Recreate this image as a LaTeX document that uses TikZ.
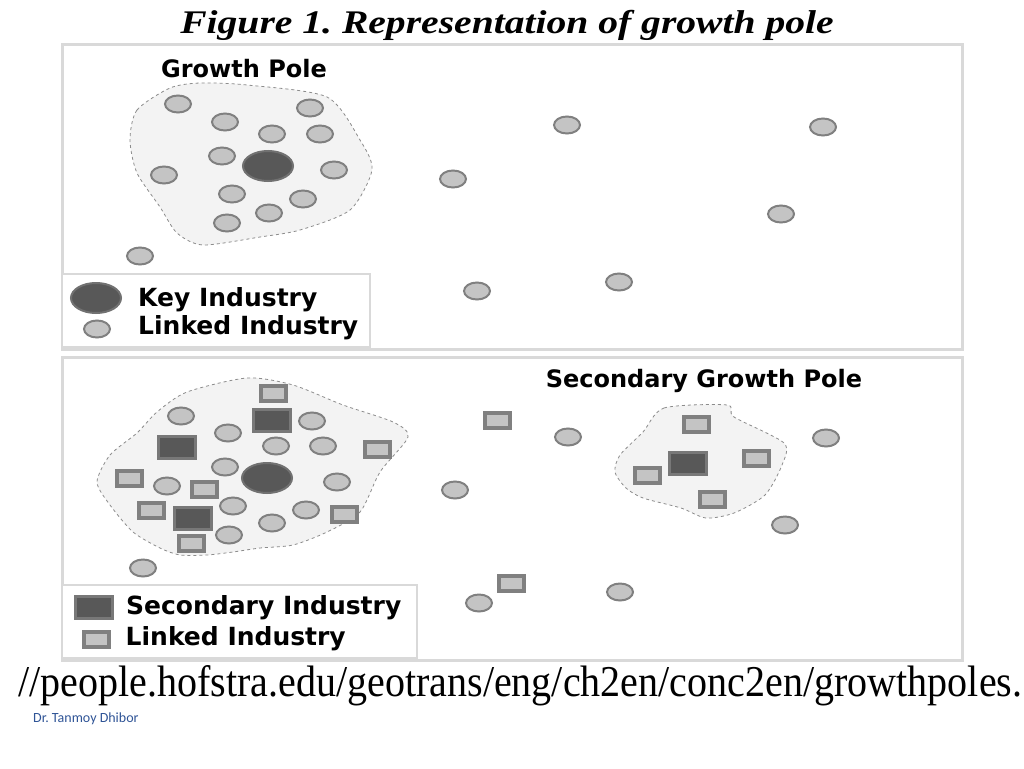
\documentclass[tikz,border=0pt]{standalone}
\usepackage{fontspec}
\setmainfont{Liberation Serif}
\newfontfamily\labelfont{DejaVu Sans}
\newfontfamily\authorfont{Carlito}
\usepackage{xcolor}
\usepackage{tikz}
\usetikzlibrary{shapes.geometric, positioning}
\definecolor{panelgray}{RGB}{217, 217, 217}
\definecolor{blobgray}{RGB}{243, 243, 243}
\definecolor{dashgray}{RGB}{140, 140, 140}
\definecolor{linkfill}{RGB}{196, 196, 196}
\definecolor{linkline}{RGB}{128, 128, 128}
\definecolor{keyfill}{RGB}{88, 88, 88}
\definecolor{secline}{RGB}{120, 120, 120}
\definecolor{authorblue}{RGB}{47, 84, 150}
\frenchspacing

\begin{document}
\begin{tikzpicture}[x=1pt, y=-1pt,
    panel/.style={draw=panelgray, line width=3pt, fill=white},
    legbox/.style={draw=panelgray, line width=2pt, fill=white},
    pole/.style={draw=dashgray, dashed, fill=blobgray, line width=0.8pt},
    linked/.style={ellipse, draw=linkline, fill=linkfill, line width=2pt, 
                   minimum width=26pt, minimum height=17pt, inner sep=0pt},
    key/.style={ellipse, draw=keyfill!85!white, fill=keyfill, line width=2pt, 
                minimum width=50pt, minimum height=30pt, inner sep=0pt},
    linksq/.style={rectangle, draw=linkline, fill=linkfill, line width=4pt, 
                   minimum width=25pt, minimum height=15pt, inner sep=0pt},
    secsq/.style={rectangle, draw=secline, fill=keyfill, line width=3pt, 
                  minimum width=37pt, minimum height=22pt, inner sep=0pt},
    heading/.style={font=\labelfont\bfseries\fontsize{24}{28}\selectfont},
    legtext/.style={font=\labelfont\bfseries\fontsize{25}{30}\selectfont, inner sep=0pt}
]
    \useasboundingbox (0,0) rectangle (1024,768);

    % title
    \node (title) at (507,25) {\scalebox{1.2}[1]{\fontsize{33}{38}\selectfont\bfseries\itshape Figure 1. Representation of growth pole}};

    % upper panel: one growth pole
    \draw[panel] (62,45) rectangle (962,349);
    \draw[pole] plot[smooth cycle, tension=0.45] coordinates {(130,140) (137,110) (170,88) 
        (200,83) (247,85) (327,97) (360,140) (372,170) (350,210) (300,230) (260,237) 
        (203,245) (177,233) (160,207) (137,173)};
    \node[heading] (polehead) at (244,69) {Growth Pole};

    \node[key] (keyA) at (268,166) {};
    \node[linked] (a1) at (178,104) {};
    \node[linked] (a2) at (225,122) {};
    \node[linked] (a3) at (310,108) {};
    \node[linked] (a4) at (272,134) {};
    \node[linked] (a5) at (320,134) {};
    \node[linked] (a6) at (222,156) {};
    \node[linked] (a7) at (334,170) {};
    \node[linked] (a8) at (164,175) {};
    \node[linked] (a9) at (232,194) {};
    \node[linked] (a10) at (303,199) {};
    \node[linked] (a11) at (269,213) {};
    \node[linked] (a12) at (227,223) {};
    \node[linked] (a13) at (140,256) {};

    \node[linked] (a14) at (567,125) {};
    \node[linked] (a15) at (823,127) {};
    \node[linked] (a16) at (453,179) {};
    \node[linked] (a17) at (781,214) {};
    \node[linked] (a18) at (477,291) {};
    \node[linked] (a19) at (619,282) {};

    \draw[legbox] (62,274) rectangle (370,347);
    \node[key] (keyleg) at (96,298) {};
    \node[linked] (linkleg) at (97,329) {};
    \node[legtext, right=16pt of keyleg, yshift=-2pt] (keytxt) {Key Industry};
    \node[legtext, right=27pt of linkleg, yshift=1pt] (linktxt) {Linked Industry};

    % lower panel: secondary growth pole
    \draw[panel] (62,357) rectangle (962,660);
    \draw[pole] plot[smooth cycle, tension=0.45] coordinates {(97,482) (110,455) (137,433) 
        (157,412) (187,392) (247,378) (293,385) (343,405) (393,422) (408,437) (380,472) 
        (360,512) (327,532) (293,545) (260,548) (233,552) (207,555) (180,555) (160,548) 
        (133,532) (110,505)};
    \draw[pole] plot[smooth cycle, tension=0.45] coordinates {(643,432) (664,408) (727,405) 
        (734,417) (784,443) (782,465) (765,495) (734,513) (706,518) (681,508) (643,498) 
        (626,488) (615,472) (620,455)};
    \node[heading] (sechead) at (704,381) {Secondary Growth Pole};

    \node[key] (keyB) at (267,478) {};
    \node[linked] (b1) at (181,416) {};
    \node[linked] (b2) at (228,433) {};
    \node[linked] (b3) at (312,421) {};
    \node[linked] (b4) at (276,446) {};
    \node[linked] (b5) at (323,446) {};
    \node[linked] (b6) at (225,467) {};
    \node[linked] (b7) at (337,482) {};
    \node[linked] (b8) at (167,486) {};
    \node[linked] (b9) at (233,506) {};
    \node[linked] (b10) at (306,510) {};
    \node[linked] (b11) at (272,523) {};
    \node[linked] (b12) at (229,535) {};
    \node[linked] (b13) at (143,568) {};

    \node[secsq] (sec1) at (177,447) {};
    \node[secsq] (sec2) at (272,420) {};
    \node[secsq] (sec3) at (193,518) {};
    \node[linksq] (s1) at (273,393) {};
    \node[linksq] (s2) at (377,449) {};
    \node[linksq] (s3) at (129,478) {};
    \node[linksq] (s4) at (204,489) {};
    \node[linksq] (s5) at (151,510) {};
    \node[linksq] (s6) at (344,514) {};
    \node[linksq] (s7) at (191,543) {};

    \node[secsq] (sec4) at (688,463) {};
    \node[linksq] (s8) at (696,424) {};
    \node[linksq] (s9) at (756,458) {};
    \node[linksq] (s10) at (647,475) {};
    \node[linksq] (s11) at (712,499) {};

    \node[linksq] (s12) at (497,420) {};
    \node[linksq] (s13) at (511,583) {};
    \node[linked] (b14) at (568,437) {};
    \node[linked] (b15) at (826,438) {};
    \node[linked] (b16) at (455,490) {};
    \node[linked] (b17) at (785,525) {};
    \node[linked] (b18) at (479,603) {};
    \node[linked] (b19) at (620,592) {};

    \draw[legbox] (62,585) rectangle (417,658);
    \node[secsq] (secleg) at (94,607) {};
    \node[linksq] (sqleg) at (96,639) {};
    \node[legtext, right=12pt of secleg, yshift=-1pt] (sectxt) {Secondary Industry};
    \node[legtext, right=15pt of sqleg] (sqtxt) {Linked Industry};

    % source and author
    \node[anchor=west, inner sep=0pt] (source) at (18,686) 
        {\scalebox{0.91}[1]{\fontsize{44}{48}\selectfont //people.hofstra.edu/geotrans/eng/ch2en/conc2en/growthpoles.}};
    \node[anchor=west, inner sep=0pt, text=authorblue] (author) at (33,719) 
        {\authorfont\fontsize{14}{16}\selectfont Dr. Tanmoy Dhibor};
\end{tikzpicture}
\end{document}
